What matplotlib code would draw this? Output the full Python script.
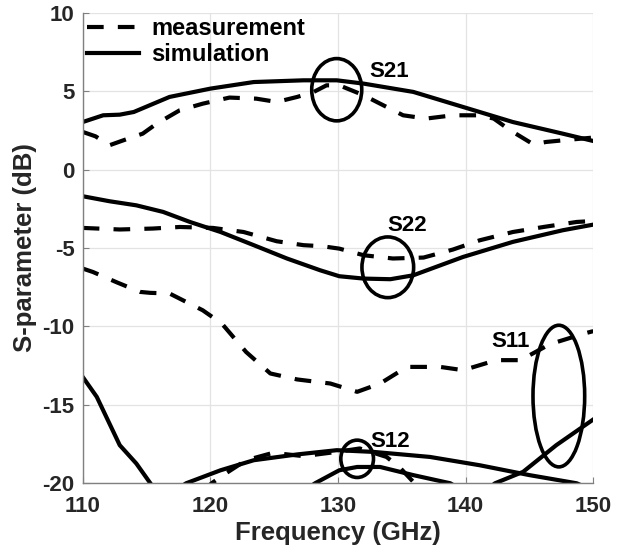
import numpy as np
import matplotlib
matplotlib.use("Agg")
import matplotlib.pyplot as plt
from matplotlib.patches import Ellipse

# S21
s21_sim_f = [110, 111.6, 112.9, 114.0, 116.8, 120, 123.4, 127.3, 129.9, 132, 135.9, 139.8, 143.7, 147.6, 150]
s21_sim_db = [3.03, 3.46, 3.5, 3.67, 4.63, 5.16, 5.58, 5.69, 5.69, 5.48, 4.95, 3.99, 3.03, 2.29, 1.82]
s21_meas_f = [110, 111, 112.1, 113.2, 114.7, 115.8, 117.6, 119.4, 121.5, 123.6, 125.2, 126.8, 128.1, 129.1,
              130.1, 132, 133.3, 135.1, 136.9, 139, 141.1, 142.2, 143.5, 145.3, 146.3, 148.2, 150]
s21_meas_db = [2.4, 2.12, 1.55, 1.87, 2.29, 2.93, 3.78, 4.2, 4.59, 4.52, 4.31, 4.63, 4.95, 5.37,
               5.37, 4.74, 4.2, 3.46, 3.25, 3.46, 3.46, 3.25, 2.5, 1.61, 1.76, 1.91, 2.04]

# S22
s22_sim_f = [110, 112.1, 114.2, 116.3, 118.4, 120.8, 123.4, 126, 128.6, 130.1, 132, 134.1, 135.9, 139.8, 143.7, 147.6, 150]
s22_sim_db = [-1.7, -2.02, -2.28, -2.7, -3.34, -3.98, -4.82, -5.67, -6.42, -6.8, -6.95, -6.99, -6.74, -5.57, -4.61, -3.87, -3.51]
s22_meas_f = [110, 112.9, 115.5, 117.6, 120.2, 122.6, 125.2, 127.3, 128.8, 130.1, 132, 134.3, 136.7, 139, 141.1, 143.7, 146.1, 148.7, 150]
s22_meas_db = [-3.72, -3.82, -3.76, -3.66, -3.72, -3.98, -4.57, -4.82, -4.89, -5.04, -5.46, -5.67, -5.61, -5.1, -4.51, -3.98, -3.66, -3.34, -3.28]

# S11 (simulation dips below the axis between ~115 and ~142 GHz)
s11_sim_f = [110, 111.1, 112.9, 114.2, 115.3, 116.5, np.nan, 141.2, 142.3, 144.5, 147.1, 150]
s11_sim_db = [-13.22, -14.49, -17.57, -18.74, -20.0, -21.5, np.nan, -20.7, -20.0, -19.27, -17.57, -15.93]
s11_meas_f = [110, 110.8, 112.7, 114.5, 115.3, 116.8, 119.4, 120.9, 122.8, 124.7, 126.8, 129.4, 131.5, 133.3,
              135.4, 138, 139.8, 142.4, 144.5, 145, 146.6, 147.6, 149.3, 150]
s11_meas_db = [-6.31, -6.53, -7.2, -7.8, -7.86, -7.9, -8.97, -9.82, -11.63, -13.0, -13.38, -13.64, -14.17, -13.64,
               -12.58, -12.58, -12.79, -12.15, -12.15, -11.84, -11.13, -10.88, -10.45, -10.3]

# S12
s12_sim_f = [117.0, 118.1, 120.8, 123.4, 126.8, 129.9, 132.8, 137.2, 141.1, 145, 148.7, 149.8]
s12_sim_db = [-20.6, -20.0, -19.17, -18.53, -18.16, -17.89, -18.0, -18.32, -18.85, -19.48, -20.0, -20.4]
s12_sim2_f = [127.3, 128.2, 130.1, 131.5, 133.3, 135.9, 138.8, 139.6]
s12_sim2_db = [-20.5, -20.0, -19.17, -18.96, -18.96, -19.48, -20.0, -20.4]
s12_meas_f = [119.4, 120.1, 121, 122.8, 124.9, 127.3, 129.9, 131.7, 133.8, 134.8, 136, 136.5]
s12_meas_db = [-20.5, -20.0, -19.48, -18.53, -18.06, -18.27, -18.0, -17.78, -18.32, -18.96, -20.0, -20.5]

# circles and their labels
ell_names = ["S21", "S22", "S11", "S12"]
ell_f = [129.9, 133.9, 147.3, 131.5]
ell_db = [5.09, -6.23, -14.44, -18.44]
ell_w = [3.92, 4.05, 4.05, 2.56]
ell_h = [3.97, 3.87, 9.03, 2.38]
lab_f = [134.0, 135.4, 143.5, 134.1]
lab_db = [6.22, -3.59, -10.99, -17.32]

xticks = [110, 120, 130, 140, 150]
yticks = [-20, -15, -10, -5, 0, 5, 10]

plt.rcParams["font.family"] = ["Liberation Sans", "DejaVu Sans"]
plt.rcParams["font.weight"] = "bold"
plt.rcParams["axes.unicode_minus"] = False

fig = plt.figure(figsize=(6.21, 5.5), dpi=100)
ax = fig.add_axes([0.1332, 0.1213, 0.8222, 0.8556])

lw = 3.0
dash = (0, (4.0, 3.4))
ax.plot(s21_meas_f, s21_meas_db, color="k", lw=lw, linestyle=dash, label="measurement")
ax.plot(s21_sim_f, s21_sim_db, color="k", lw=lw, label="simulation")
ax.plot(s22_meas_f, s22_meas_db, color="k", lw=lw, linestyle=dash)
ax.plot(s22_sim_f, s22_sim_db, color="k", lw=lw)
ax.plot(s11_meas_f, s11_meas_db, color="k", lw=lw, linestyle=dash)
ax.plot(s11_sim_f, s11_sim_db, color="k", lw=lw)
ax.plot(s12_meas_f, s12_meas_db, color="k", lw=lw, linestyle=dash)
ax.plot(s12_sim_f, s12_sim_db, color="k", lw=lw)
ax.plot(s12_sim2_f, s12_sim2_db, color="k", lw=lw)

for name, f, d, w, h, lf, ld in zip(ell_names, ell_f, ell_db, ell_w, ell_h, lab_f, lab_db):
    ax.add_patch(Ellipse((f, d), w, h, fill=False, edgecolor="k", lw=2.6))
    ax.text(lf, ld, name, ha="center", va="center", fontsize=16, fontweight="bold", color="k")

ax.set_xlim(110, 150)
ax.set_ylim(-20, 10)
ax.set_xticks(xticks)
ax.set_yticks(yticks)
ax.grid(True, color="#e3e3e3", lw=0.9)
ax.set_axisbelow(True)
for side in ["top", "right"]:
    ax.spines[side].set_visible(False)
for side in ["left", "bottom"]:
    ax.spines[side].set_color("#808080")
    ax.spines[side].set_linewidth(1.0)
ax.tick_params(direction="in", length=4, color="#808080", labelcolor="#262626", labelsize=16)
ax.tick_params(axis="x", pad=9)
ax.tick_params(axis="y", pad=6)
for t in ax.get_xticklabels() + ax.get_yticklabels():
    t.set_fontweight("bold")

ax.set_xlabel("Frequency (GHz)", fontsize=18.5, fontweight="bold", color="#262626", labelpad=3)
ax.set_ylabel("S-parameter (dB)", fontsize=18.5, fontweight="bold", color="#262626", labelpad=4)

leg = ax.legend(loc="upper left", frameon=False, handlelength=2.2,
                handletextpad=0.5, labelspacing=0.1, borderaxespad=0.0, borderpad=0.2,
                prop={"weight": "bold", "size": 17})

fig.savefig("out.png", dpi=100)
